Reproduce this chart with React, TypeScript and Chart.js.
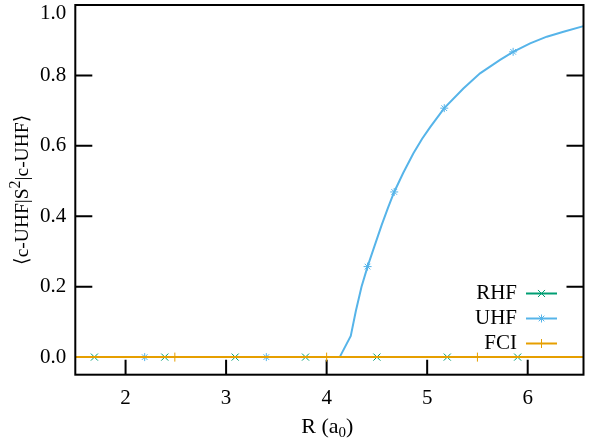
import React, { useEffect, useRef } from "react";
import { Chart, registerables } from "chart.js";
import { drawPoint } from "chart.js/helpers";

Chart.register(...registerables);

// ---- data ----
const rhfR = [1.5, 1.69, 2.39, 3.09, 3.79, 4.5, 5.2, 5.9, 6.555];
const rhfS2 = [0, 0, 0, 0, 0, 0, 0, 0, 0];
const rhfMarkers = [1, 2, 3, 4, 5, 6, 7];

const uhfR = [
  1.5, 2.19, 3.4, 4.13, 4.24, 4.29, 4.347, 4.407, 4.47, 4.547, 4.61, 4.672,
  4.76, 4.862, 4.95, 5.03, 5.17, 5.36, 5.526, 5.725, 5.855, 6.024, 6.19, 6.356,
  6.555,
];
const uhfS2 = [
  0, 0, 0, 0, 0.06, 0.13, 0.2, 0.257, 0.31, 0.375, 0.424, 0.469, 0.522, 0.578,
  0.62, 0.653, 0.707, 0.763, 0.806, 0.844, 0.867, 0.891, 0.91, 0.924, 0.94,
];
const uhfMarkers = [1, 2, 7, 11, 16, 20];

const fciR = [1.5, 2.49, 4.0, 5.5, 6.555];
const fciS2 = [0, 0, 0, 0, 0];
const fciMarkers = [1, 2, 3];

const seriesNames = ["RHF", "UHF", "FCI"];
const xTitleMain = "R (a";
const xTitleSub = "0";
const xTitleEnd = ")";
const yTitleA = "⟨c-UHF|S";
const yTitleSup = "2";
const yTitleB = "|c-UHF⟩";

const COLORS = ["#009e73", "#56b4e9", "#e69f00"];
const STYLES = ["crossRot", "star", "cross"];
const RADII = [5, 4, 4.5];
const FONT = '"Liberation Serif", "Times New Roman", Times, "DejaVu Serif", serif';

const toPts = (xs: number[], ys: number[]) => xs.map((x, i) => ({ x, y: ys[i] }));

const framePlugin = {
  id: "gnuFrame",
  beforeDatasetsDraw(chart: any) {
    const { ctx, chartArea: a, scales } = chart;
    const x = scales.x;
    const y = scales.y;
    ctx.save();
    ctx.strokeStyle = "#000";
    ctx.lineWidth = 2;
    ctx.beginPath();
    for (const t of x.ticks) {
      const px = x.getPixelForValue(t.value);
      ctx.moveTo(px, a.bottom);
      ctx.lineTo(px, a.bottom - 15);
    }
    for (const t of y.ticks) {
      const py = y.getPixelForValue(t.value);
      ctx.moveTo(a.left, py);
      ctx.lineTo(a.left + 17, py);
      ctx.moveTo(a.right, py);
      ctx.lineTo(a.right - 17, py);
    }
    ctx.stroke();
    ctx.restore();
  },
  afterDatasetsDraw(chart: any) {
    const { ctx, chartArea: a, scales } = chart;
    const y = scales.y;
    ctx.save();
    // frame
    ctx.strokeStyle = "#000";
    ctx.lineWidth = 2;
    ctx.strokeRect(a.left, a.top, a.right - a.left, a.bottom - a.top);

    // y tick labels
    ctx.fillStyle = "#000";
    ctx.font = `21px ${FONT}`;
    ctx.textAlign = "right";
    ctx.textBaseline = "middle";
    for (const t of y.ticks) {
      const py = y.getPixelForValue(t.value);
      ctx.fillText(Number(t.value).toFixed(1), a.left - 9, Math.max(py, 13.5));
    }

    // x title
    const cx = (a.left + a.right) / 2 - 2;
    ctx.textAlign = "left";
    ctx.textBaseline = "alphabetic";
    const mainF = `22px ${FONT}`;
    const subF = `15px ${FONT}`;
    ctx.font = mainF;
    const w1 = ctx.measureText(xTitleMain).width;
    const w3 = ctx.measureText(xTitleEnd).width;
    ctx.font = subF;
    const w2 = ctx.measureText(xTitleSub).width;
    let sx = cx - (w1 + w2 + w3) / 2;
    const by = 433;
    ctx.font = mainF;
    ctx.fillText(xTitleMain, sx, by);
    sx += w1;
    ctx.font = subF;
    ctx.fillText(xTitleSub, sx, by + 4);
    sx += w2;
    ctx.font = mainF;
    ctx.fillText(xTitleEnd, sx, by);

    // y title (rotated)
    ctx.save();
    ctx.translate(28, (a.top + a.bottom) / 2);
    ctx.rotate(-Math.PI / 2);
    const tF = `19.5px ${FONT}`;
    const supF = `16px ${FONT}`;
    ctx.font = tF;
    const ya = ctx.measureText(yTitleA).width;
    const yb = ctx.measureText(yTitleB).width;
    ctx.font = supF;
    const ys = ctx.measureText(yTitleSup).width;
    let tx = -(ya + ys + yb) / 2;
    ctx.font = tF;
    ctx.fillText(yTitleA, tx, 0);
    tx += ya;
    ctx.font = supF;
    ctx.fillText(yTitleSup, tx, -8);
    tx += ys;
    ctx.font = tF;
    ctx.fillText(yTitleB, tx, 0);
    ctx.restore();

    // legend
    ctx.font = `21px ${FONT}`;
    ctx.textAlign = "right";
    ctx.textBaseline = "middle";
    const lx = 517;
    const ly0 = 293.5;
    seriesNames.forEach((name, i) => {
      const ly = ly0 + i * 25;
      ctx.fillStyle = "#000";
      ctx.fillText(name, lx, ly);
      ctx.strokeStyle = COLORS[i];
      ctx.lineWidth = 2;
      ctx.beginPath();
      ctx.moveTo(526, ly);
      ctx.lineTo(557, ly);
      ctx.stroke();
      ctx.lineWidth = 1;
      drawPoint(
        ctx,
        { pointStyle: STYLES[i] as any, rotation: 0, radius: RADII[i], borderWidth: 1 },
        541.5,
        ly
      );
    });
    ctx.restore();
  },
};

export default function App() {
  const ref = useRef<HTMLCanvasElement | null>(null);
  useEffect(() => {
    document.body.style.margin = "0";
    const canvas = ref.current;
    if (!canvas) return;
    const mk = (label: string, xs: number[], ys: number[], marks: number[], i: number, order: number) => ({
      label,
      data: toPts(xs, ys),
      borderColor: COLORS[i],
      backgroundColor: COLORS[i],
      borderWidth: 2,
      pointStyle: STYLES[i],
      pointRadius: (c: any) => (marks.includes(c.dataIndex) ? RADII[i] : 0),
      pointBorderWidth: 1,
      pointBorderColor: COLORS[i],
      pointHoverRadius: 0,
      tension: 0,
      order,
    });
    const chart = new Chart(canvas, {
      type: "line",
      data: {
        datasets: [
          mk(seriesNames[0], rhfR, rhfS2, rhfMarkers, 0, 3),
          mk(seriesNames[1], uhfR, uhfS2, uhfMarkers, 1, 2),
          mk(seriesNames[2], fciR, fciS2, fciMarkers, 2, 1),
        ] as any,
      },
      options: {
        responsive: false,
        devicePixelRatio: 1,
        animation: false,
        events: [],
        layout: { padding: { left: 0, right: 6.5, top: 5, bottom: 0 } },
        plugins: { legend: { display: false }, tooltip: { enabled: false } },
        scales: {
          x: {
            type: "linear",
            position: "bottom",
            min: 1.5,
            max: 6.555,
            grid: { display: false, drawTicks: false },
            border: { display: false },
            ticks: {
              stepSize: 1,
              includeBounds: false,
              color: "#000",
              padding: 11,
              maxRotation: 0,
              font: { family: FONT, size: 21 },
            },
            afterFit: (s: any) => {
              s.height = 67.3;
            },
          },
          y: {
            type: "linear",
            min: -0.05,
            max: 1.0,
            grid: { display: false, drawTicks: false },
            border: { display: false },
            ticks: { stepSize: 0.2, includeBounds: false, display: false },
            afterFit: (s: any) => {
              s.width = 75.3;
            },
          },
        },
      },
      plugins: [framePlugin],
    });
    return () => {
      chart.destroy();
    };
  }, []);
  return (
    <div style={{ position: "absolute", left: 0, top: 0, width: 590, height: 442, background: "#fff" }}>
      <canvas ref={ref} width={590} height={442} />
    </div>
  );
}
